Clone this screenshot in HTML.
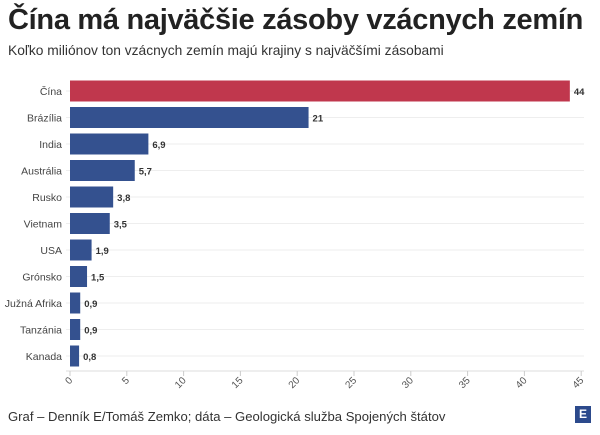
<!DOCTYPE html><html><head><meta charset="utf-8"><style>
body{margin:0;width:600px;height:435px;background:#fff;font-family:"Liberation Sans",sans-serif;overflow:hidden;position:relative}
.t{position:absolute;left:8px;top:4px;font-size:29px;font-weight:bold;color:#222;letter-spacing:-0.3px;white-space:nowrap}
.s{position:absolute;left:8px;top:43px;font-size:13.8px;color:#333;white-space:nowrap}
.f{position:absolute;left:8px;top:409px;font-size:13.1px;color:#333;white-space:nowrap}
</style></head><body>
<div class="t">Čína má najväčšie zásoby vzácnych zemín</div>
<div class="s">Koľko miliónov ton vzácnych zemín majú krajiny s najväčšími zásobami</div>
<svg width="600" height="435" style="position:absolute;left:0;top:0" font-family="Liberation Sans, sans-serif">
<g id="g"></g>
</svg>
<div class="f">Graf – Denník E/Tomáš Zemko; dáta – Geologická služba Spojených štátov</div>
<div style="position:absolute;left:575px;top:406px;width:16px;height:17px;background:#2c4a8c;color:#fff;font-size:12px;font-weight:bold;text-align:center;line-height:17px">E</div>
<script>
var d=[["Čína",44,"44"],["Brázília",21,"21"],["India",6.9,"6,9"],["Austrália",5.7,"5,7"],["Rusko",3.8,"3,8"],["Vietnam",3.5,"3,5"],["USA",1.9,"1,9"],["Grónsko",1.5,"1,5"],["Južná Afrika",0.9,"0,9"],["Tanzánia",0.9,"0,9"],["Kanada",0.8,"0,8"]];
var s="",x0=70,k=11.36;
d.forEach(function(r,i){var y=91+i*26.5;
s+='<line x1="66" x2="584" y1="'+y+'" y2="'+y+'" stroke="#eee"/>';
s+='<text x="62" y="'+(y+4)+'" font-size="10.5" fill="#444" text-anchor="end">'+r[0]+'</text>';
var w=r[1]*k;s+='<rect x="'+x0+'" y="'+(y-10.5)+'" width="'+w+'" height="21" fill="'+(i?'#34518f':'#c0374d')+'"/>';
s+='<text x="'+(x0+w+4)+'" y="'+(y+4)+'" font-size="9.5" font-weight="bold" fill="#333">'+r[2]+'</text>';});
s+='<line x1="66" x2="584" y1="371" y2="371" stroke="#ddd"/>';
for(var t=0;t<=45;t+=5){var x=x0+t*k;s+='<line x1="'+x+'" x2="'+x+'" y1="371" y2="376" stroke="#ccc"/><text transform="translate('+(x+3)+',381) rotate(-45)" font-size="10" fill="#555" text-anchor="end">'+t+'</text>';}
document.getElementById("g").innerHTML=s;
</script>
</body></html>
